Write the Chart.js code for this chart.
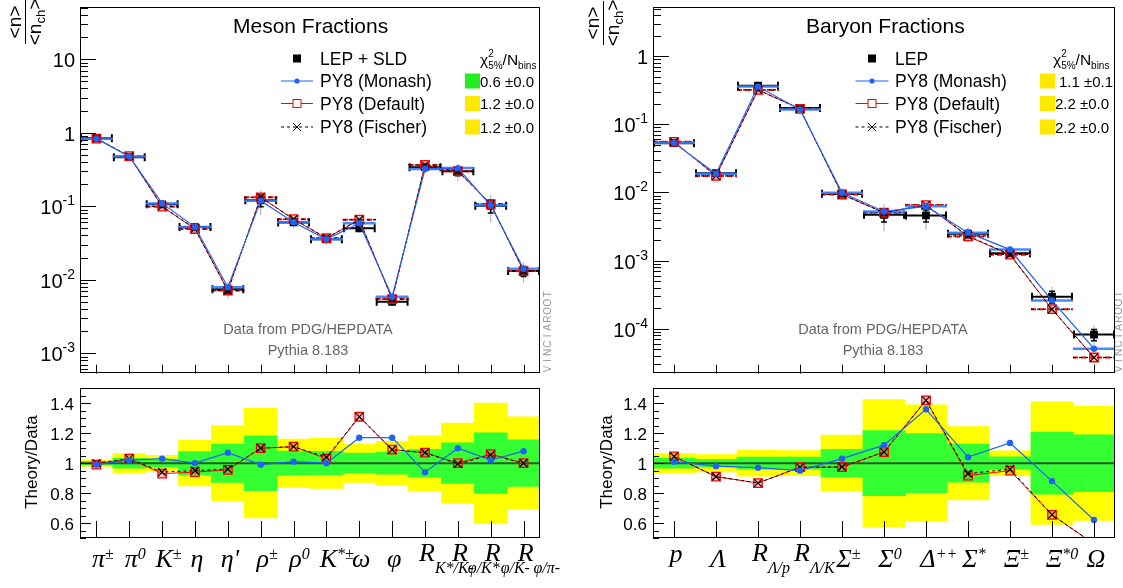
<!DOCTYPE html>
<html><head><meta charset="utf-8">
<script src="https://cdn.jsdelivr.net/npm/chart.js@4.4.0/dist/chart.umd.min.js"></script>
<style>
html,body{margin:0;padding:0;background:#fff;}
body{width:1123px;height:588px;position:relative;overflow:hidden;}
canvas{position:absolute;}
</style></head><body>
<canvas id="mesonTop" style="left:0px;top:0px" width="561" height="381"></canvas>
<canvas id="mesonRatio" style="left:0px;top:381px" width="561" height="207"></canvas>
<canvas id="baryonTop" style="left:561px;top:0px" width="562" height="381"></canvas>
<canvas id="baryonRatio" style="left:561px;top:381px" width="562" height="207"></canvas>
<script>
// ---------------- DATA ----------------
const mesonLabels = ["π^{±}","π^{0}","K^{±}","η","η'","ρ^{±}","ρ^{0}","K^{*±}","ω","φ","R_{K*/K-}","R_{φ/K*}","R_{φ/K-}","R_{φ/π-}"];
const mesonData    = [0.84, 0.465, 0.106, 0.052, 0.0074, 0.120, 0.060, 0.0355, 0.050, 0.0050, 0.340, 0.300, 0.101, 0.0131];
const mesonMonash  = [0.83, 0.474, 0.109, 0.052, 0.0079, 0.119, 0.0606, 0.0355, 0.0585, 0.00585, 0.320, 0.330, 0.103, 0.0141];
const mesonDefault = [0.83, 0.479, 0.0986, 0.0489, 0.0071, 0.132, 0.0666, 0.0366, 0.0655, 0.00545, 0.364, 0.300, 0.107, 0.0131];
const mesonFischer = [0.84, 0.479, 0.0996, 0.0494, 0.0071, 0.132, 0.0666, 0.0369, 0.0655, 0.00545, 0.364, 0.299, 0.1066, 0.0131];
const mesonRatioMonash  = [0.99, 1.02, 1.03, 1.00, 1.07, 0.99, 1.01, 1.00, 1.17, 1.17, 0.94, 1.10, 1.02, 1.08];
const mesonRatioDefault = [0.99, 1.03, 0.93, 0.94, 0.955, 1.10, 1.11, 1.03, 1.31, 1.09, 1.07, 1.00, 1.06, 1.00];
const mesonRatioFischer = [1.00, 1.03, 0.94, 0.95, 0.96, 1.10, 1.11, 1.04, 1.31, 1.09, 1.07, 0.995, 1.055, 1.00];
const mesonErr1 = [0.012, 0.033, 0.027, 0.078, 0.128, 0.183, 0.081, 0.079, 0.067, 0.074, 0.093, 0.136, 0.203, 0.156];
const mesonErr2 = [0.022, 0.064, 0.053, 0.152, 0.250, 0.366, 0.160, 0.168, 0.128, 0.145, 0.183, 0.267, 0.402, 0.309];
const mesonChi2 = ["0.6 ±0.0", "1.2 ±0.0", "1.2 ±0.0"];
const mesonYTicks = [10, 1, 0.1, 0.01, 0.001];
const mesonYTickLabels = ["10", "1", "10^{-1}", "10^{-2}", "10^{-3}"];

const baryonLabels = ["p","Λ","R_{Λ/p}","R_{Λ/K}","Σ^{±}","Σ^{0}","Δ^{++}","Σ^{*}","Ξ^{±}","Ξ^{*0}","Ω"];
const baryonData    = [0.053, 0.0192, 0.370, 0.174, 0.0096, 0.0047, 0.0046, 0.00247, 0.00128, 0.000294, 0.000082];
const baryonMonash  = [0.0535, 0.0188, 0.359, 0.165, 0.0099, 0.00526, 0.00626, 0.00257, 0.00145, 0.000259, 0.0000508];
const baryonDefault = [0.0554, 0.0175, 0.321, 0.169, 0.00934, 0.00505, 0.00653, 0.00226, 0.00122, 0.000193, 0.0000377];
const baryonFischer = [0.0554, 0.0175, 0.321, 0.169, 0.00936, 0.00505, 0.00653, 0.00230, 0.00123, 0.000193, 0.0000377];
const baryonRatioMonash  = [1.01, 0.98, 0.97, 0.95, 1.03, 1.12, 1.36, 1.04, 1.135, 0.88, 0.62];
const baryonRatioDefault = [1.045, 0.91, 0.867, 0.973, 0.973, 1.074, 1.42, 0.917, 0.95, 0.655, 0.46];
const baryonRatioFischer = [1.045, 0.91, 0.867, 0.973, 0.975, 1.074, 1.42, 0.93, 0.96, 0.655, 0.46];
const baryonErr1 = [0.034, 0.026, 0.040, 0.040, 0.093, 0.217, 0.197, 0.127, 0.042, 0.207, 0.190];
const baryonErr2 = [0.064, 0.058, 0.087, 0.084, 0.188, 0.425, 0.390, 0.245, 0.083, 0.410, 0.382];
const baryonChi2 = ["1.1 ±0.1", "2.2 ±0.0", "2.2 ±0.0"];
const baryonYTicks = [1, 0.1, 0.01, 0.001, 0.0001];
const baryonYTickLabels = ["1", "10^{-1}", "10^{-2}", "10^{-3}", "10^{-4}"];

const ratioTicks = [0.6, 0.8, 1, 1.2, 1.4];
const ratioTickLabels = ["0.6", "0.8", "1", "1.2", "1.4"];
const seriesNames = ["PY8 (Monash)", "PY8 (Default)", "PY8 (Fischer)"];

// ---------------- STYLE ----------------
const SANS = '"Liberation Sans", Arial, sans-serif';
const SERIF = '"Liberation Serif", "Times New Roman", serif';
const BLUE = '#1f63f5';
const BLUE_BIN = 'rgba(50,125,255,0.9)';
const RED = '#ff0000';
const GREEN_BAND = '#33ff33';
const YELLOW_BAND = '#ffff00';
const GREEN_BOX = '#22ee22';
const YELLOW_BOX = '#ffe800';

function line(ctx,x1,y1,x2,y2){ctx.beginPath();ctx.moveTo(x1,y1);ctx.lineTo(x2,y2);ctx.stroke();}

function parseRich(s){
  const out=[]; let buf=''; let i=0;
  while(i<s.length){
    const c=s[i];
    if(c==='^'||c==='_'){
      if(buf){out.push({t:buf,m:'n'});buf='';}
      let t;
      if(s[i+1]==='{'){const j=s.indexOf('}',i+2); t=s.slice(i+2,j); i=j+1;}
      else {t=s[i+1]; i+=2;}
      out.push({t:t,m:c==='^'?'sup':'sub'});
    } else {buf+=c;i++;}
  }
  if(buf) out.push({t:buf,m:'n'});
  return out;
}
function drawRich(ctx, s, x, y, o){
  const segs=parseRich(s); const items=[]; let pos=0, scriptStart=null, prev='n';
  for(const sg of segs){
    const isS = sg.m!=='n';
    const font = `${o.style||'normal'} ${isS?o.scriptSize:o.size}px ${o.family}`;
    ctx.font=font;
    const w=ctx.measureText(sg.t).width;
    let sx;
    if(isS && prev!=='n' && prev!==sg.m && scriptStart!==null) sx=scriptStart;
    else { sx=pos; scriptStart = isS ? pos : null; }
    items.push({t:sg.t,m:sg.m,x:sx,font,w});
    pos=Math.max(pos,sx+w); prev=sg.m;
  }
  let x0;
  if(o.align==='right') x0=x-pos; else if(o.align==='center') x0=x-pos/2;
  else if(o.align==='main') x0=x-items[0].w/2; else x0=x;
  ctx.textAlign='left'; ctx.textBaseline='alphabetic';
  for(const it of items){
    ctx.font=it.font;
    const dy = it.m==='sup' ? -o.supRise : (it.m==='sub' ? o.subDrop : 0);
    ctx.fillText(it.t, x0+it.x, y+dy);
  }
  return pos;
}

// ---------------- PANELS ----------------
const panels = {
  mesonTop: {kind:'top', labels:mesonLabels, data:mesonData, err1:mesonErr1, err2:mesonErr2,
    def:mesonDefault, fis:mesonFischer, mon:mesonMonash, yTicks:mesonYTicks, yTickLabels:mesonYTickLabels,
    title:'Meson Fractions', titleX:233, dataName:'LEP + SLD', legX:297, legHalf:16, legTextX:320,
    chiX:480, boxX:465, chi:mesonChi2, boxColors:[GREEN_BOX,YELLOW_BOX,YELLOW_BOX], valX:[480,480,480],
    noteX:308, vinciX:547, fracX:25, fracY:22},
  baryonTop: {kind:'top', labels:baryonLabels, data:baryonData, err1:baryonErr1, err2:baryonErr2,
    def:baryonDefault, fis:baryonFischer, mon:baryonMonash, yTicks:baryonYTicks, yTickLabels:baryonYTickLabels,
    title:'Baryon Fractions', titleX:245, dataName:'LEP', legX:311, legHalf:16.5, legTextX:334,
    chiX:492, boxX:479, chi:baryonChi2, boxColors:[YELLOW_BOX,YELLOW_BOX,YELLOW_BOX], valX:[498,494,494],
    noteX:322, vinciX:557, fracX:42, fracY:23},
  mesonRatio: {kind:'ratio', labels:mesonLabels, titleBaseX:37, titleY:81},
  baryonRatio: {kind:'ratio', labels:baryonLabels, titleBaseX:51, titleY:81}
};

function drawFrame(chart){
  const ctx=chart.ctx,a=chart.chartArea;
  ctx.save(); ctx.strokeStyle='#000'; ctx.lineWidth=1;
  ctx.strokeRect(Math.round(a.left)+0.5, Math.round(a.top)+0.5, Math.round(a.right-a.left)-1, Math.round(a.bottom-a.top)-1);
  ctx.restore();
}
function drawXTicks(chart,p,len){
  const ctx=chart.ctx,a=chart.chartArea,xs=chart.scales.x;
  ctx.save(); ctx.strokeStyle='#000'; ctx.lineWidth=1;
  for(let i=0;i<p.labels.length;i++){
    const px=Math.round(xs.getPixelForValue(i))+0.5;
    line(ctx,px,a.bottom,px,a.bottom-len);
  }
  ctx.restore();
}
function drawLogY(chart,p){
  const ctx=chart.ctx,a=chart.chartArea,ys=chart.scales.y;
  ctx.save(); ctx.strokeStyle='#000'; ctx.lineWidth=1; ctx.fillStyle='#000';
  const e0=Math.floor(Math.log10(ys.min)), e1=Math.ceil(Math.log10(ys.max));
  for(let e=e0;e<=e1;e++) for(let k=2;k<=9;k++){
    const v=k*Math.pow(10,e); if(v<ys.min||v>ys.max) continue;
    const py=Math.round(ys.getPixelForValue(v))+0.5;
    line(ctx,a.left,py,a.left+8,py);
  }
  p.yTicks.forEach((v,i)=>{
    const py=Math.round(ys.getPixelForValue(v))+0.5;
    line(ctx,a.left,py,a.left+16,py);
    drawRich(ctx,p.yTickLabels[i],a.left-5,py+7,{size:20,scriptSize:14,family:SANS,supRise:9,subDrop:0,align:'right'});
  });
  ctx.restore();
}
function drawRatioY(chart){
  const ctx=chart.ctx,a=chart.chartArea,ys=chart.scales.y;
  ctx.save(); ctx.strokeStyle='#000'; ctx.lineWidth=1; ctx.fillStyle='#000';
  const step=(ratioTicks[1]-ratioTicks[0])/4;
  for(let v=ys.min; v<=ys.max+1e-9; v+=step){
    const py=Math.round(ys.getPixelForValue(v))+0.5;
    line(ctx,a.left,py,a.left+6,py);
  }
  ratioTicks.forEach((v,i)=>{
    const py=Math.round(ys.getPixelForValue(v))+0.5;
    line(ctx,a.left,py,a.left+11,py);
    ctx.font=`17px ${SANS}`; ctx.textAlign='right'; ctx.textBaseline='alphabetic';
    ctx.fillText(ratioTickLabels[i], a.left-6, py+6);
  });
  ctx.restore();
}
function drawXLabels(chart,p){
  const ctx=chart.ctx,xs=chart.scales.x;
  ctx.save(); ctx.fillStyle='#000';
  p.labels.forEach((lab,i)=>{
    const px=xs.getPixelForValue(i)+2;
    const base = lab.indexOf('_')>=0 ? 180 : (lab==='p' ? 181 : 186);
    drawRich(ctx,lab,px,base,{size:26,scriptSize:16,family:SERIF,style:'italic',supRise:8,subDrop:12,align:'main'});
  });
  ctx.restore();
}
function drawTopBins(chart,p){
  const ctx=chart.ctx,a=chart.chartArea,xs=chart.scales.x,ys=chart.scales.y;
  const n=p.labels.length, half=(a.right-a.left)/n/2;
  ctx.save(); ctx.beginPath(); ctx.rect(a.left,a.top,a.right-a.left,a.bottom-a.top); ctx.clip();
  for(let i=0;i<n;i++){
    const cx=xs.getPixelForValue(i), v=p.data[i];
    ctx.setLineDash([]);
    ctx.strokeStyle='#aaaaaa'; ctx.lineWidth=1;
    line(ctx,cx,ys.getPixelForValue(v*(1-p.err2[i])),cx,ys.getPixelForValue(v*(1+p.err2[i])));
    ctx.strokeStyle='#000'; ctx.lineWidth=1.5;
    const y1=ys.getPixelForValue(v*(1-p.err1[i])), y2=ys.getPixelForValue(v*(1+p.err1[i]));
    line(ctx,cx,y1,cx,y2); line(ctx,cx-3,y1,cx+3,y1); line(ctx,cx-3,y2,cx+3,y2);
    ctx.lineWidth=2;
    const py=ys.getPixelForValue(v);
    line(ctx,cx-half+1,py,cx+half-1,py);
    line(ctx,cx-half+1,py-4,cx-half+1,py+4); line(ctx,cx+half-1,py-4,cx+half-1,py+4);
  }
  for(let i=0;i<n;i++){
    const cx=xs.getPixelForValue(i);
    ctx.strokeStyle=RED; ctx.lineWidth=2; ctx.setLineDash([5,3]);
    let py=ys.getPixelForValue(p.def[i]); line(ctx,cx-half,py,cx+half,py);
    ctx.strokeStyle='#000'; ctx.lineWidth=1.2; ctx.setLineDash([3,3]);
    py=ys.getPixelForValue(p.fis[i]); line(ctx,cx-half,py,cx+half,py);
    ctx.strokeStyle=BLUE_BIN; ctx.lineWidth=2.5; ctx.setLineDash([]);
    py=ys.getPixelForValue(p.mon[i]); line(ctx,cx-half,py,cx+half,py);
  }
  ctx.restore();
}
function drawTopTexts(chart,p){
  const ctx=chart.ctx;
  ctx.save(); ctx.fillStyle='#000'; ctx.textAlign='left'; ctx.textBaseline='alphabetic';
  ctx.font=`21px ${SANS}`; ctx.fillText(p.title,p.titleX,33);
  const rows=[58.5,81,103.5,127];
  ctx.font=`17.5px ${SANS}`;
  ctx.fillText(p.dataName,p.legTextX,rows[0]+6);
  seriesNames.forEach((s,i)=>ctx.fillText(s,p.legTextX,rows[i+1]+6));
  // markers
  ctx.fillStyle='#000'; ctx.fillRect(p.legX-4,rows[0]-4,8,8);
  ctx.lineWidth=1; ctx.strokeStyle=BLUE; line(ctx,p.legX-p.legHalf,rows[1],p.legX+p.legHalf,rows[1]);
  ctx.fillStyle=BLUE; ctx.beginPath(); ctx.arc(p.legX,rows[1],2.6,0,Math.PI*2); ctx.fill();
  ctx.strokeStyle=RED; line(ctx,p.legX-p.legHalf,rows[2],p.legX+p.legHalf,rows[2]);
  ctx.fillStyle='#fff'; ctx.fillRect(p.legX-4,rows[2]-4,8,8); ctx.strokeRect(p.legX-4,rows[2]-4,8,8);
  ctx.strokeStyle='#000'; ctx.setLineDash([3,3]); line(ctx,p.legX-p.legHalf,rows[3],p.legX+p.legHalf,rows[3]);
  ctx.setLineDash([]); line(ctx,p.legX-4,rows[3]-4,p.legX+4,rows[3]+4); line(ctx,p.legX-4,rows[3]+4,p.legX+4,rows[3]-4);
  // chi2
  ctx.fillStyle='#000';
  drawRich(ctx,'χ^{2}_{5%}/N_{bins}',p.chiX,65,{size:15.5,scriptSize:10,family:SANS,supRise:8,subDrop:4,align:'left'});
  for(let i=0;i<3;i++){
    ctx.fillStyle=p.boxColors[i]; ctx.fillRect(p.boxX,rows[i+1]-7.5,15,15);
    ctx.fillStyle='#000'; ctx.font=`15px ${SANS}`; ctx.textAlign='left';
    ctx.fillText(p.chi[i],p.valX[i],rows[i+1]+5.5);
  }
  // notes
  ctx.fillStyle='#666'; ctx.font=`14.5px ${SANS}`; ctx.textAlign='center';
  ctx.fillText('Data from PDG/HEPDATA',p.noteX,334);
  ctx.fillText('Pythia 8.183',p.noteX,355);
  // VINCIAROOT
  ctx.save(); ctx.translate(p.vinciX+4,373); ctx.rotate(-Math.PI/2);
  ctx.fillStyle='#999'; ctx.font=`10px ${SANS}`; ctx.textAlign='center';
  'VINCIAROOT'.split('').forEach((c,i)=>ctx.fillText(c,4+i*8.3,0));
  ctx.restore();
  // y title fraction
  ctx.save(); ctx.translate(p.fracX,p.fracY); ctx.rotate(-Math.PI/2);
  ctx.fillStyle='#000'; ctx.strokeStyle='#000'; ctx.lineWidth=1;
  ctx.font=`19px ${SANS}`; ctx.textAlign='center';
  ctx.fillText('<n>',0,-4);
  drawRich(ctx,'<n_{ch}>',0,16,{size:19,scriptSize:13,family:SANS,supRise:8,subDrop:4,align:'center'});
  line(ctx,-22,0.5,22,0.5);
  ctx.restore();
  ctx.restore();
}
function drawRatioTitle(chart,p){
  const ctx=chart.ctx;
  ctx.save(); ctx.translate(p.titleBaseX,p.titleY); ctx.rotate(-Math.PI/2);
  ctx.fillStyle='#000'; ctx.font=`17px ${SANS}`; ctx.textAlign='center'; ctx.textBaseline='alphabetic';
  ctx.fillText('Theory/Data',0,0);
  ctx.restore();
}

const rootDecor = {
  id:'rootDecor',
  beforeDatasetsDraw(chart){
    const p=panels[chart.canvas.id];
    if(p.kind==='top') drawTopBins(chart,p);
  },
  afterDatasetDraw(chart,args){
    const p=panels[chart.canvas.id];
    if(p.kind==='ratio' && args.index===1){
      const ctx=chart.ctx,a=chart.chartArea,ys=chart.scales.y;
      ctx.save(); ctx.strokeStyle='rgba(40,60,40,0.85)'; ctx.lineWidth=2;
      const py=ys.getPixelForValue(ratioTicks[2]);
      line(ctx,a.left,py,a.right,py); ctx.restore();
    }
  },
  afterDraw(chart){
    const p=panels[chart.canvas.id];
    if(p.kind==='top'){
      drawXTicks(chart,p,9); drawLogY(chart,p); drawTopTexts(chart,p); drawFrame(chart);
    } else {
      drawXTicks(chart,p,17); drawRatioY(chart); drawXLabels(chart,p); drawRatioTitle(chart,p); drawFrame(chart);
    }
  }
};

const common = {
  animation:false, responsive:false, maintainAspectRatio:false, devicePixelRatio:1, events:[],
  plugins:{legend:{display:false}, tooltip:{enabled:false}}
};

function mcDatasets(def,fis,mon){
  return [
    {type:'line', label:'PY8 (Default)', data:def, borderColor:RED, borderWidth:1, tension:0,
     pointStyle:'rect', pointRadius:6, pointBorderColor:RED, pointBackgroundColor:'rgba(255,60,60,0.35)', pointBorderWidth:1.3, order:3},
    {type:'line', label:'PY8 (Fischer)', data:fis, borderColor:'#000', borderWidth:1, borderDash:[3,3], tension:0,
     pointStyle:'crossRot', pointRadius:5.5, pointBorderColor:'#000', pointBackgroundColor:'#000', pointBorderWidth:1.2, order:2},
    {type:'line', label:'PY8 (Monash)', data:mon, borderColor:BLUE, borderWidth:1.2, tension:0,
     pointStyle:'circle', pointRadius:3.2, pointBorderColor:BLUE, pointBackgroundColor:BLUE, pointBorderWidth:0, order:1}
  ];
}

function makeTop(id, labels, data, def, fis, mon, ymin, ymax, padLeft, padRight){
  new Chart(document.getElementById(id), {
    type:'line',
    data:{labels:labels, datasets:[
      {type:'line', label:'data', data:data, showLine:false, pointStyle:'rect', pointRadius:5.5,
       pointBackgroundColor:'#000', pointBorderColor:'#000', pointBorderWidth:0, order:10},
      ...mcDatasets(def,fis,mon)
    ]},
    options:Object.assign({}, common, {
      layout:{padding:{left:padLeft, right:padRight, top:0, bottom:7}},
      scales:{x:{type:'category', offset:true, display:false},
              y:{type:'logarithmic', min:ymin, max:ymax, display:false}}
    }),
    plugins:[rootDecor]
  });
}
function makeRatio(id, labels, e1, e2, rdef, rfis, rmon, padLeft, padRight){
  new Chart(document.getElementById(id), {
    type:'bar',
    data:{labels:labels, datasets:[
      {type:'bar', label:'2 sigma', data:e2.map(h=>[1-h,1+h]), backgroundColor:YELLOW_BAND, borderWidth:0,
       grouped:false, barPercentage:1, categoryPercentage:1, order:20},
      {type:'bar', label:'1 sigma', data:e1.map(h=>[1-h,1+h]), backgroundColor:GREEN_BAND, borderWidth:0,
       grouped:false, barPercentage:1, categoryPercentage:1, order:19},
      ...mcDatasets(rdef,rfis,rmon)
    ]},
    options:Object.assign({}, common, {
      layout:{padding:{left:padLeft, right:padRight, top:7, bottom:50}},
      scales:{x:{type:'category', offset:true, display:false},
              y:{type:'linear', min:0.5, max:1.5, display:false}}
    }),
    plugins:[rootDecor]
  });
}

makeTop('mesonTop', mesonLabels, mesonData, mesonDefault, mesonFischer, mesonMonash, 5.25e-4, 50.9, 80, 21);
makeTop('baryonTop', baryonLabels, baryonData, baryonDefault, baryonFischer, baryonMonash, 2.18e-5, 5.24, 92, 8);
makeRatio('mesonRatio', mesonLabels, mesonErr1, mesonErr2, mesonRatioDefault, mesonRatioFischer, mesonRatioMonash, 80, 21);
makeRatio('baryonRatio', baryonLabels, baryonErr1, baryonErr2, baryonRatioDefault, baryonRatioFischer, baryonRatioMonash, 92, 8);
</script>
</body></html>
